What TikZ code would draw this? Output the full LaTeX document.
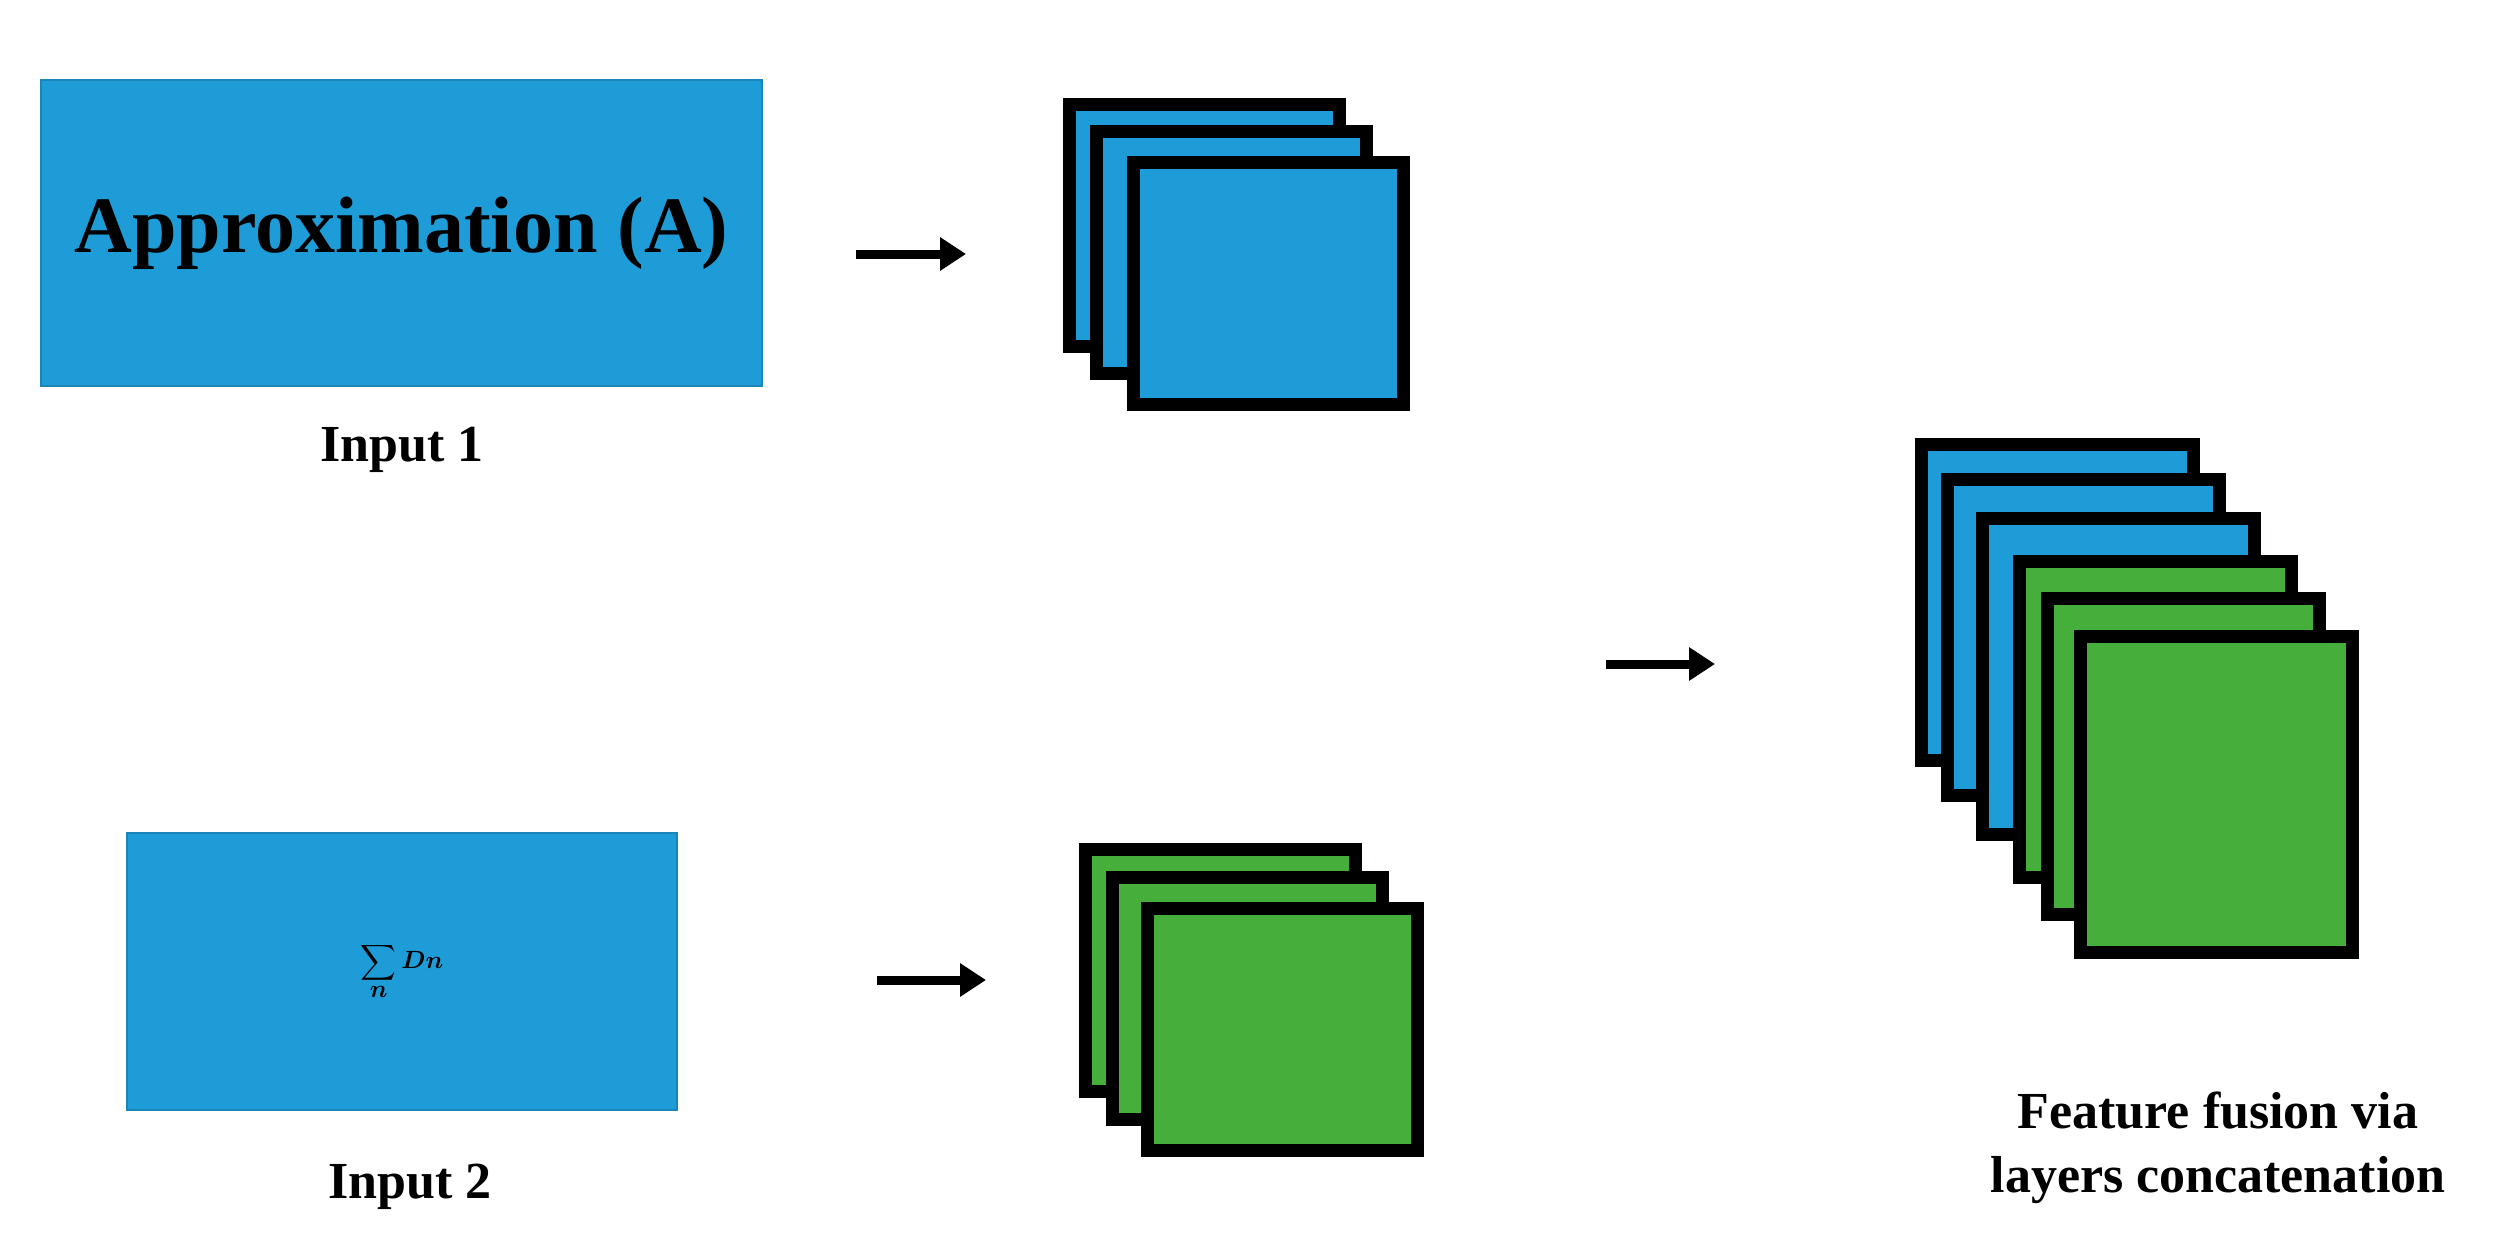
\documentclass[tikz,border=0pt]{standalone}
\usepackage{amsmath}
\usepackage{fontspec}
\setmainfont{Liberation Serif}
\usetikzlibrary{positioning,arrows.meta}
\definecolor{waveblue}{HTML}{1E9CD7}
\definecolor{waveedge}{HTML}{1A86B8}
\definecolor{wavegreen}{HTML}{46AF3C}
\newcommand{\sumdetail}{\mbox{\fontsize{72}{80}\selectfont\boldmath$\displaystyle\sum_{n} Dn$}}
\tikzset{
    inbox/.style={draw=waveedge, line width=2pt, fill=waveblue, inner sep=0pt},
    layer/.style={draw=black, line width=13pt, fill=#1, inner sep=0pt,
        minimum width=270pt, minimum height=242pt},
    biglayer/.style={layer=#1, minimum width=272pt, minimum height=316pt},
    caption/.style={font=\fontsize{52}{64}\selectfont\bfseries, align=center},
    flow/.style={line width=9pt, -{Triangle[length=26pt, width=32pt]}}
}
\begin{document}
\begin{tikzpicture}[x=1pt, y=-1pt]
                    \useasboundingbox (0, 0) rectangle (2505, 1234);
                    % Inputs
                    \node[inbox, minimum width=721pt, minimum height=306pt] (approx) at (401.5, 233)
                        {\fontsize{80}{90}\selectfont\bfseries Approximation (A)};
                    \node[inbox, minimum width=550pt, minimum height=277pt] (detail) at (402, 971.5)
                        {\sumdetail};
                    \node[caption] (in1) at (402, 450) {Input 1};
                    \node[caption] (in2) at (410, 1187) {Input 2};
                    % Network 1
                    \node[layer=waveblue] (na1) at (1204.5, 225.5) {};
                    \node[layer=waveblue] (na2) at (1231.5, 252.5) {};
                    \node[layer=waveblue] (na3) at (1268, 283.5) {};
                    % Network 2
                    \node[layer=wavegreen] (nd1) at (1220.5, 970.5) {};
                    \node[layer=wavegreen] (nd2) at (1247.5, 998) {};
                    \node[layer=wavegreen] (nd3) at (1282.5, 1029.5) {};
                    \node[caption] (twonets) at (1252, 1354)
                        {The two networks taking\\the wavelet coefficients\\as inputs};
                    % Fusion
                    \node[biglayer=waveblue] (f1) at (2057.5, 602.5) {};
                    \node[biglayer=waveblue] (f2) at (2083, 637.5) {};
                    \node[biglayer=waveblue] (f3) at (2118.5, 676) {};
                    \node[biglayer=wavegreen] (f4) at (2155, 719.5) {};
                    \node[biglayer=wavegreen] (f5) at (2183, 756) {};
                    \node[biglayer=wavegreen] (f6) at (2216.5, 794) {};
                    \node[caption] (fusion) at (2218, 1148) {Feature fusion via\\layers concatenation};
                    % Arrows
                    \coordinate (a1s) at (856, 254);
                    \coordinate (a1e) at (966, 254);
                    \coordinate (a2s) at (877, 980);
                    \coordinate (a2e) at (986, 980);
                    \coordinate (a3s) at (1606, 664);
                    \coordinate (a3e) at (1715, 664);
                    \draw[flow] (a1s) -- (a1e);
                    \draw[flow] (a2s) -- (a2e);
                    \draw[flow] (a3s) -- (a3e);
                \end{tikzpicture}
\end{document}
